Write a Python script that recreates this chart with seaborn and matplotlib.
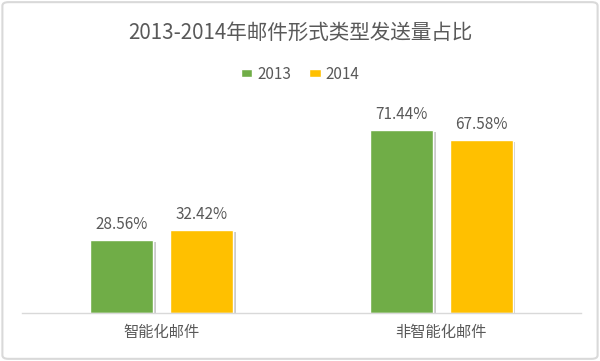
import pandas as pd
import seaborn as sns
import matplotlib.pyplot as plt
import matplotlib.patheffects as pe
from matplotlib.patches import FancyBboxPatch

# data
categories = ['智能化邮件', '非智能化邮件']
years = ['2013', '2014']
share_2013 = [28.56, 71.44]
share_2014 = [32.42, 67.58]

df = pd.DataFrame({
    'category': categories * 2,
    'year': [years[0]] * 2 + [years[1]] * 2,
    'share': share_2013 + share_2014,
})

sns.set_theme(style='white')
plt.rcParams['font.family'] = ['Noto Sans CJK SC', 'DejaVu Sans']
text_color = '#595959'

fig = plt.figure(figsize=(6, 3.61), dpi=100)
ax = fig.add_axes([0.037, 0.133, 0.931, 0.568])

sns.barplot(data=df, x='category', y='share', hue='year', order=categories,
            hue_order=years, palette=['#70AD47', '#FFC000'], saturation=1,
            width=0.572, gap=0.21, ax=ax, legend=True)

# soft shadow on bars, like the office chart
for bar in ax.patches:
    bar.set_path_effects([pe.SimplePatchShadow(offset=(2, -1.5), alpha=0.4, shadow_rgbFace='#7f7f7f'),
                          pe.Normal()])

for cont in ax.containers:
    ax.bar_label(cont, labels=[f'{v:.2f}%' for v in cont.datavalues],
                 padding=5, fontsize=11, color=text_color)

ax.set_ylim(0, 80)
ax.set_xlim(-0.5, 1.5)
ax.set_xlabel('')
ax.set_ylabel('')
ax.set_yticks([])
ax.tick_params(axis='x', length=0, labelsize=11, labelcolor=text_color, pad=8)
for s in ['top', 'left', 'right']:
    ax.spines[s].set_visible(False)
ax.spines['bottom'].set_color('#d9d9d9')
ax.spines['bottom'].set_linewidth(1)

ax.legend_.remove()
handles, labels = ax.get_legend_handles_labels()
leg = fig.legend(handles, labels, loc='center', bbox_to_anchor=(0.5, 0.795), ncol=2,
                 frameon=False, fontsize=11, labelcolor=text_color, handlelength=0.75,
                 handleheight=0.5, handletextpad=0.3, columnspacing=1.2)
for h in leg.legend_handles:
    h.set_path_effects([])

fig.text(0.5, 0.91, '2013-2014年邮件形式类型发送量占比', ha='center', va='center',
         fontsize=14.8, color=text_color)

# light frame around the whole chart
fig.patches.append(FancyBboxPatch((0.004, 0.006), 0.992, 0.988,
                                  boxstyle='round,pad=0,rounding_size=0.01',
                                  transform=fig.transFigure, fill=False,
                                  edgecolor='#d9d9d9', linewidth=1.5))

fig.savefig('out.png', dpi=100)
